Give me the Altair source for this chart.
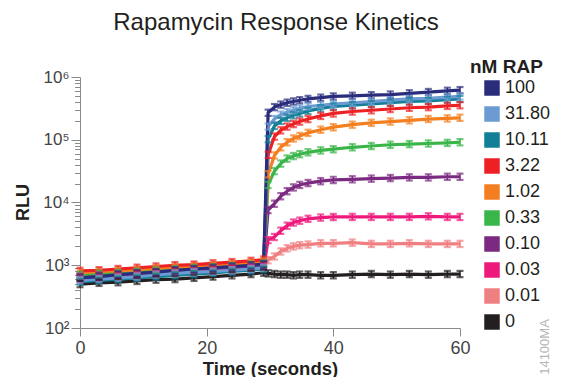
import altair as alt
import pandas as pd

# time points (seconds)
time_s = [0, 3, 6, 9, 12, 15, 18, 21, 24, 27, 29, 29.7, 30.7, 31.7, 32.7, 33.7, 34.7,
          36, 38, 40, 43, 46, 49, 52, 55, 58, 60]

doses = ["100", "31.80", "10.11", "3.22", "1.02", "0.33", "0.10", "0.03", "0.01", "0"]
colors = ["#2a2c7c", "#6b9bd2", "#127f96", "#ed2024", "#f47f20", "#39b54a",
          "#7b2a82", "#ed1a7c", "#f07f82", "#231f20"]

# log10(RLU)
log_rlu_100 = [2.80, 2.82, 2.85, 2.87, 2.89, 2.92, 2.94, 2.96, 2.98, 3.00, 3.02,
               5.43, 5.52, 5.56, 5.59, 5.61, 5.63, 5.65, 5.67, 5.69, 5.70, 5.71, 5.72, 5.74, 5.76, 5.78, 5.79]
log_rlu_31_80 = [2.76, 2.78, 2.80, 2.82, 2.85, 2.87, 2.89, 2.90, 2.92, 2.94, 2.96,
                 5.21, 5.33, 5.40, 5.44, 5.47, 5.50, 5.53, 5.55, 5.57, 5.59, 5.61, 5.63, 5.65, 5.66, 5.68, 5.69]
log_rlu_10_11 = [2.74, 2.76, 2.78, 2.80, 2.82, 2.84, 2.86, 2.88, 2.90, 2.92, 2.94,
                 5.01, 5.22, 5.30, 5.35, 5.39, 5.42, 5.46, 5.50, 5.53, 5.55, 5.57, 5.59, 5.61, 5.62, 5.64, 5.65]
log_rlu_3_22 = [2.91, 2.92, 2.94, 2.96, 2.98, 3.00, 3.01, 3.03, 3.05, 3.07, 3.09,
                4.76, 5.05, 5.15, 5.21, 5.25, 5.29, 5.33, 5.38, 5.42, 5.45, 5.47, 5.49, 5.51, 5.52, 5.54, 5.55]
log_rlu_1_02 = [2.88, 2.90, 2.91, 2.93, 2.95, 2.97, 2.99, 3.00, 3.02, 3.04, 3.06,
                4.45, 4.75, 4.88, 4.96, 5.02, 5.06, 5.11, 5.16, 5.20, 5.24, 5.27, 5.29, 5.31, 5.33, 5.34, 5.35]
log_rlu_0_33 = [2.85, 2.87, 2.88, 2.90, 2.92, 2.94, 2.96, 2.97, 2.99, 3.01, 3.03,
                4.28, 4.50, 4.62, 4.70, 4.74, 4.77, 4.80, 4.83, 4.85, 4.88, 4.90, 4.92, 4.93, 4.94, 4.95, 4.96]
log_rlu_0_10 = [2.82, 2.84, 2.86, 2.88, 2.89, 2.91, 2.93, 2.95, 2.97, 2.98, 3.00,
                3.88, 3.98, 4.10, 4.18, 4.24, 4.28, 4.31, 4.34, 4.36, 4.37, 4.38, 4.39, 4.40, 4.40, 4.41, 4.41]
log_rlu_0_03 = [2.78, 2.80, 2.82, 2.84, 2.86, 2.87, 2.89, 2.91, 2.93, 2.95, 2.97,
                3.40, 3.45, 3.55, 3.63, 3.68, 3.71, 3.74, 3.76, 3.77, 3.77, 3.77, 3.77, 3.77, 3.78, 3.77, 3.77]
log_rlu_0_01 = [2.83, 2.85, 2.87, 2.89, 2.91, 2.93, 2.95, 2.97, 2.99, 3.01, 3.03,
                3.08, 3.14, 3.22, 3.27, 3.30, 3.32, 3.33, 3.35, 3.35, 3.36, 3.34, 3.34, 3.35, 3.34, 3.34, 3.34]
log_rlu_0 = [2.70, 2.72, 2.73, 2.75, 2.77, 2.78, 2.80, 2.82, 2.84, 2.86, 2.88,
             2.87, 2.86, 2.85, 2.85, 2.84, 2.85, 2.85, 2.84, 2.84, 2.85, 2.86, 2.85, 2.86, 2.85, 2.86, 2.86]

series = {
    "100": log_rlu_100, "31.80": log_rlu_31_80, "10.11": log_rlu_10_11,
    "3.22": log_rlu_3_22, "1.02": log_rlu_1_02, "0.33": log_rlu_0_33,
    "0.10": log_rlu_0_10, "0.03": log_rlu_0_03, "0.01": log_rlu_0_01, "0": log_rlu_0,
}
err_log10 = 0.05  # half-width of error bars (decades)

rows = []
for k, dose in enumerate(reversed(doses)):
    for t, v in zip(time_s, series[dose]):
        rows.append({"dose": dose, "t": t, "rlu": 10 ** v,
                     "lo": 10 ** (v - err_log10), "hi": 10 ** (v + err_log10), "k": k})
df = pd.DataFrame(rows)

SANS = "'Liberation Sans', Arial, Helvetica, sans-serif"
AX = "#8a8a8a"

major_ticks = [100, 1000, 10000, 100000, 1000000]
minor_ticks = [200, 300, 400, 500, 600, 700, 800, 900,
               2000, 3000, 4000, 5000, 6000, 7000, 8000, 9000,
               20000, 30000, 40000, 50000, 60000, 70000, 80000, 90000,
               200000, 300000, 400000, 500000, 600000, 700000, 800000, 900000]

yscale = alt.Scale(type="log", domain=[100, 1000000], nice=False)
xscale = alt.Scale(domain=[0, 60], nice=False)

yaxis_major = alt.Axis(
    values=major_ticks, orient="left",
    labelExpr=("datum.value == 1000000 ? '10\u2076' : datum.value == 100000 ? '10\u2075' : "
               "datum.value == 10000 ? '10\u2074' : datum.value == 1000 ? '10\u00b3' : '10\u00b2'"),
    tickSize=9, grid=False, title="RLU", titleFont=SANS, titleFontSize=18,
    titleFontWeight="bold", titleColor="#231f20", titleX=-57, titleY=125,
    titleBaseline="middle",
    labelFont=SANS, labelFontSize=17, labelColor="#444444", labelPadding=2,
    domainColor=AX, tickColor=AX, labelOverlap=False,
)
yaxis_minor = alt.Axis(
    values=minor_ticks, orient="left", labels=False, tickSize=5, domain=False,
    grid=False, title=None, tickColor=AX,
)
xaxis = alt.Axis(
    values=[0, 20, 40, 60], grid=False, tickSize=8, title="Time (seconds)",
    titleFont=SANS, titleFontSize=18.5, titleFontWeight="bold", titleColor="#231f20",
    titleY=46, titleBaseline="alphabetic", labelFlush=False,
    labelFont=SANS, labelFontSize=18, labelColor="#444444", labelPadding=3,
    domainColor=AX, tickColor=AX,
)

color = alt.Color(
    "dose:N",
    scale=alt.Scale(domain=doses, range=colors),
    legend=alt.Legend(
        title="nM RAP", orient="none", legendX=390, legendY=-19,
        symbolType="square", symbolSize=240, symbolOffset=13, symbolStrokeWidth=0,
        symbolOpacity=1,
        labelFont=SANS, labelFontSize=18, labelColor="#231f20", labelOffset=4,
        titleFont=SANS, titleFontSize=19, titleFontWeight="bold", titleColor="#231f20",
        titlePadding=2, rowPadding=8,
    ),
)

base = alt.Chart(df).encode(
    x=alt.X("t:Q", scale=xscale, axis=xaxis),
    color=color,
)

# tiny filled squares: gives the legend filled square swatches; carries major y axis
swatch = base.mark_square(size=1, filled=True).encode(
    y=alt.Y("rlu:Q", scale=yscale, axis=yaxis_major))
lines = base.mark_line(strokeWidth=3.2).encode(
    y=alt.Y("rlu:Q", scale=yscale, axis=yaxis_minor))
rules = base.mark_rule(strokeWidth=1.5).encode(
    y=alt.Y("lo:Q", scale=yscale, axis=yaxis_minor), y2="hi:Q")
caps_lo = base.mark_tick(orient="horizontal", size=7, thickness=2.2).encode(
    y=alt.Y("lo:Q", scale=yscale, axis=yaxis_minor))
caps_hi = base.mark_tick(orient="horizontal", size=7, thickness=2.2).encode(
    y=alt.Y("hi:Q", scale=yscale, axis=yaxis_minor))

code = alt.Chart(pd.DataFrame({"label": ["14100MA"]})).mark_text(
    angle=270, font=SANS, fontSize=13, color="#b5b5b5", baseline="middle", align="center"
).encode(x=alt.value(465), y=alt.value(270), text="label:N")

chart = alt.layer(swatch, lines, rules, caps_lo, caps_hi, code).resolve_axis(
    y="independent"
).properties(
    width=380, height=251,
    title=alt.TitleParams("Rapamycin Response Kinetics", font=SANS, fontSize=24,
                          fontWeight="normal", color="#231f20", anchor="middle",
                          frame="group", offset=23, dx=6),
    autosize=alt.AutoSizeParams(type="none"),
    padding={"left": 72, "top": 69, "right": 93, "bottom": 49},
).configure_view(stroke=None)

chart.save("out.html", embed_options={"renderer": "svg", "actions": False})
